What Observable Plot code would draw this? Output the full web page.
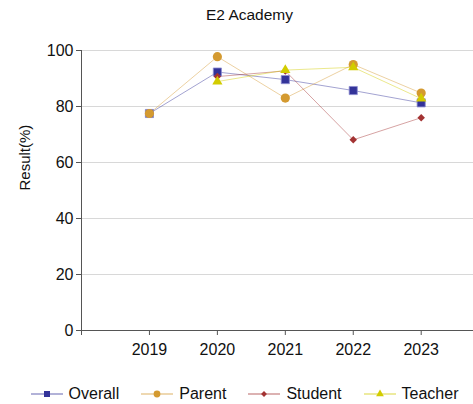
<!DOCTYPE html>
<html>
<head>
<meta charset="utf-8">
<script src="https://cdn.jsdelivr.net/npm/d3@7"></script>
<script src="https://cdn.jsdelivr.net/npm/@observablehq/plot@0.6"></script>
<style>
  html, body { margin: 0; padding: 0; background: #fff; }
  body { width: 473px; height: 404px; overflow: hidden; font-family: "Liberation Sans", Arial, sans-serif; }
  #title { height: 30px; line-height: 30px; text-align: center; font-size: 15.5px; color: #111; padding-left: 26px; }
  #legend { display: flex; justify-content: center; font-size: 16px; color: #111; margin-top: 15px; padding-left: 16px; }
  .item { display: flex; align-items: center; margin: 0 11px; }
  .item svg { margin-right: 6px; }
</style>
</head>
<body>
<div id="title">E2 Academy</div>
<div id="chart"></div>
<div id="legend"></div>
<script>
const years = [2019, 2020, 2021, 2022, 2023];
const seriesNames = ["Overall", "Parent", "Student", "Teacher"];
const overall = [77.5, 92.3, 89.6, 85.7, 81.3];
const parent  = [77.5, 97.8, 83.0, 95.0, 84.8];
const student = [null, 90.7, 92.7, 68.1, 76.0];
const teacher = [null, 88.9, 93.0, 94.0, 82.8];
const yTicks = [0, 20, 40, 60, 80, 100];

const colors = {Overall: "#333399", Parent: "#d49a30", Student: "#a33333", Teacher: "#d2cc00"};
const symbols = {Overall: "square", Parent: "circle", Student: "diamond2", Teacher: "triangle"};
const radii = {Overall: 4.6, Parent: 4.6, Student: 3.4, Teacher: 3.8};

const valuesBy = {Overall: overall, Parent: parent, Student: student, Teacher: teacher};
const rows = [];
for (const s of seriesNames) {
  valuesBy[s].forEach((v, i) => { if (v != null) rows.push({series: s, year: years[i], value: v}); });
}

const marks = [
  Plot.gridY(yTicks.filter(d => d > 0), {stroke: "#d8d8d8", strokeOpacity: 1, strokeWidth: 1}),
  Plot.axisY(yTicks, {tickSize: 5, tickPadding: 3, stroke: "#555", label: null, fill: "#111"}),
  Plot.axisX([2018, ...years], {tickSize: 5, tickPadding: 8, stroke: "#555", label: null, fill: "#111",
    tickFormat: d => d === 2018 ? "" : String(d)}),
  Plot.ruleY([0], {stroke: "#555", strokeWidth: 1}),
  Plot.ruleX([2018], {stroke: "#555", strokeWidth: 1}),
  Plot.text(["Result(%)"], {frameAnchor: "left", dx: -56, rotate: -90, fontSize: 15, fill: "#111"})
];
for (const s of seriesNames) {
  const data = rows.filter(r => r.series === s);
  marks.push(Plot.line(data, {x: "year", y: "value", stroke: colors[s], strokeOpacity: 0.45, strokeWidth: 1}));
}
for (const s of seriesNames) {
  const data = rows.filter(r => r.series === s);
  marks.push(Plot.dot(data, {x: "year", y: "value", symbol: () => symbols[s], r: radii[s], fill: colors[s],
    stroke: s === "Overall" ? "#8d8dd0" : "none", strokeWidth: 0.8}));
}

const chart = Plot.plot({
  width: 473,
  height: 340,
  marginLeft: 81,
  marginRight: 0,
  marginTop: 20,
  marginBottom: 40,
  style: {fontFamily: "'Liberation Sans', Arial, sans-serif", fontSize: "16px", background: "#fff", overflow: "visible"},
  x: {domain: [2018, 2023.77]},
  y: {domain: [0, 100]},
  symbol: {type: "identity"},
  marks
});
document.getElementById("chart").appendChild(chart);

// Legend
const legend = d3.select("#legend");
for (const s of seriesNames) {
  const item = legend.append("div").attr("class", "item");
  const svg = item.append("svg").attr("width", 32).attr("height", 14);
  svg.append("line").attr("x1", 0).attr("x2", 32).attr("y1", 7).attr("y2", 7)
    .attr("stroke", colors[s]).attr("stroke-opacity", 0.5).attr("stroke-width", 1.5);
  const sym = {square: d3.symbolSquare, circle: d3.symbolCircle, diamond2: d3.symbolDiamond2, triangle: d3.symbolTriangle}[symbols[s]];
  svg.append("path").attr("transform", "translate(16,7)")
    .attr("d", d3.symbol(sym, s === "Student" ? 22 : (s === "Teacher" ? 26 : 36))())
    .attr("fill", colors[s]);
  item.append("span").text(s);
}
</script>
</body>
</html>
